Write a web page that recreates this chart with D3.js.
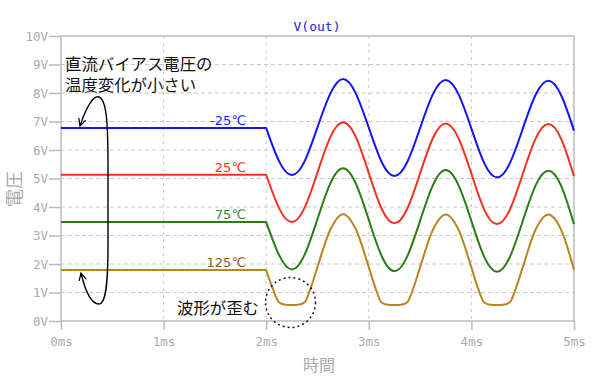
<!DOCTYPE html>
<html>
<head>
<meta charset="utf-8">
<script src="https://cdn.jsdelivr.net/npm/d3@7"></script>
<style>
  body { margin: 0; background: #fff; }
  svg { display: block; }
</style>
</head>
<body>
<script>
// time axis in ms, voltage in V
const xTicks = [0, 1, 2, 3, 4, 5];
const yTicks = [0, 1, 2, 3, 4, 5, 6, 7, 8, 9, 10];

const tempLabels = ["-25℃", "25℃", "75℃", "125℃"];
const dcLevels = [6.77, 5.13, 3.47, 1.79];
const dcEnd = 2; // input turns on at 2ms

const waveTimes = [2, 2.125, 2.25, 2.375, 2.5, 2.625, 2.75, 2.875,
  3, 3.125, 3.25, 3.375, 3.5, 3.625, 3.75, 3.875,
  4, 4.125, 4.25, 4.375, 4.5, 4.625, 4.75, 4.875, 5];

const vMinus25 = [6.77, 5.61, 5.12, 5.61, 6.80, 7.98, 8.49, 7.97,
  6.78, 5.58, 5.09, 5.58, 6.77, 7.96, 8.46, 7.95,
  6.75, 5.54, 5.04, 5.54, 6.74, 7.93, 8.43, 7.92, 6.68];
const v25 = [5.13, 3.96, 3.47, 3.98, 5.21, 6.45, 6.97, 6.44,
  5.19, 3.94, 3.43, 3.94, 5.18, 6.42, 6.93, 6.41,
  5.17, 3.91, 3.40, 3.91, 5.15, 6.39, 6.91, 6.39, 5.08];
const v75 = [3.47, 2.32, 1.81, 2.33, 3.58, 4.83, 5.36, 4.81,
  3.55, 2.28, 1.75, 2.27, 3.52, 4.77, 5.30, 4.76,
  3.51, 2.25, 1.73, 2.25, 3.50, 4.75, 5.27, 4.74, 3.40];

// 125℃ is clipped at the bottom, so it gets extra samples there
const clipTimes = [2, 2.0625, 2.125, 2.1875, 2.25, 2.3125, 2.375, 2.4375, 2.5, 2.625, 2.75, 2.875,
  3, 3.0625, 3.125, 3.1875, 3.25, 3.3125, 3.375, 3.4375, 3.5, 3.625, 3.75, 3.875,
  4, 4.0625, 4.125, 4.1875, 4.25, 4.3125, 4.375, 4.4375, 4.5, 4.625, 4.75, 4.875, 5];
const v125 = [1.79, 1.15, 0.66, 0.57, 0.56, 0.57, 0.66, 1.20, 1.90, 3.21, 3.75, 3.21,
  1.89, 1.18, 0.65, 0.57, 0.56, 0.57, 0.66, 1.19, 1.89, 3.20, 3.74, 3.20,
  1.88, 1.17, 0.65, 0.57, 0.56, 0.57, 0.66, 1.19, 1.88, 3.20, 3.74, 3.20, 1.80];

const lineColors = ["#1414f5", "#f0321e", "#2a7d16", "#b8861e"];
const labelColors = ["#1a1aff", "#f0321e", "#2e8b2e", "#8f5a16"];

const width = 600;
const height = 384;
const margin = { top: 36, right: 26, bottom: 63, left: 61 };

const svg = d3.select("body").append("svg")
  .attr("width", width)
  .attr("height", height);

const x = d3.scaleLinear().domain([0, 5]).range([margin.left, width - margin.right]);
const y = d3.scaleLinear().domain([0, 10]).range([height - margin.bottom, margin.top]);

const mono = "'DejaVu Sans Mono', monospace";
const jp = "'Noto Sans CJK JP', sans-serif";
const gray = "#aaa";

// grid
const grid = svg.append("g").attr("stroke", "#c8c8c8").attr("stroke-width", 1);
grid.selectAll("line.h")
  .data(yTicks.slice(1, -1))
  .join("line")
  .attr("class", "h")
  .attr("x1", x(0)).attr("x2", x(5))
  .attr("y1", (d) => y(d)).attr("y2", (d) => y(d))
  .attr("stroke-dasharray", "4,3");
grid.selectAll("line.v")
  .data(xTicks.slice(1, -1))
  .join("line")
  .attr("class", "v")
  .attr("x1", (d) => x(d)).attr("x2", (d) => x(d))
  .attr("y1", y(10)).attr("y2", y(0))
  .attr("stroke-dasharray", "3,4");

// frame
svg.append("rect")
  .attr("x", x(0)).attr("y", y(10))
  .attr("width", x(5) - x(0)).attr("height", y(0) - y(10))
  .attr("fill", "none").attr("stroke", "#bbb").attr("stroke-width", 1.5);

const leftAxis = svg.append("g")
  .attr("transform", `translate(${x(0)},0)`)
  .call(d3.axisLeft(y).tickValues(yTicks).tickFormat((d) => d + "V").tickSize(12).tickSizeOuter(0).tickPadding(1));
const bottomAxis = svg.append("g")
  .attr("transform", `translate(0,${y(0)})`)
  .call(d3.axisBottom(x).tickValues(xTicks).tickFormat((d) => d + "ms").tickSize(9).tickSizeOuter(0).tickPadding(7));

[leftAxis, bottomAxis].forEach((a) => {
  a.select(".domain").remove();
  a.selectAll(".tick line").attr("stroke", "#bbb").attr("stroke-width", 1.5);
  a.selectAll(".tick text")
    .attr("fill", gray)
    .style("font-family", mono)
    .style("font-size", "12.5px");
});

// series
const dcLine = d3.line().x((d) => x(d[0])).y((d) => y(d[1]));
const waveLine = d3.line().x((d) => x(d[0])).y((d) => y(d[1])).curve(d3.curveNatural);
const clipLine = d3.line().x((d) => x(d[0])).y((d) => y(d[1])).curve(d3.curveMonotoneX);

const waves = [
  { t: waveTimes, v: vMinus25, gen: waveLine },
  { t: waveTimes, v: v25, gen: waveLine },
  { t: waveTimes, v: v75, gen: waveLine },
  { t: clipTimes, v: v125, gen: clipLine },
];

waves.forEach((w, i) => {
  const flat = dcLine([[0, dcLevels[i]], [dcEnd, dcLevels[i]]]);
  const pts = w.t.map((t, j) => [t, w.v[j]]);
  const wave = w.gen(pts).replace(/^M/, "L");
  svg.append("path")
    .attr("d", flat + wave)
    .attr("fill", "none")
    .attr("stroke", lineColors[i])
    .attr("stroke-width", 2)
    .attr("stroke-linejoin", "round");
});

svg.append("g")
  .selectAll("text")
  .data(tempLabels)
  .join("text")
  .attr("x", 246)
  .attr("y", (d, i) => y(dcLevels[i]) - 3)
  .attr("text-anchor", "end")
  .attr("fill", (d, i) => labelColors[i])
  .style("font-family", "'DejaVu Sans', sans-serif")
  .style("font-size", "13px")
  .text((d) => d);

// title and axis names
svg.append("text")
  .attr("x", 317).attr("y", 31)
  .attr("text-anchor", "middle")
  .attr("fill", "#2020e0")
  .style("font-family", mono)
  .style("font-size", "13px")
  .text("V(out)");

svg.append("text")
  .attr("transform", "translate(21,189) rotate(-90)")
  .attr("text-anchor", "middle")
  .attr("fill", gray)
  .style("font-family", jp)
  .style("font-size", "18px")
  .text("電圧");

svg.append("text")
  .attr("x", 319).attr("y", 371)
  .attr("text-anchor", "middle")
  .attr("fill", gray)
  .style("font-family", jp)
  .style("font-size", "16px")
  .text("時間");

// annotations
const defs = svg.append("defs");
defs.append("marker")
  .attr("id", "head")
  .attr("viewBox", "0 0 10 10")
  .attr("refX", 9).attr("refY", 5)
  .attr("markerWidth", 9).attr("markerHeight", 9)
  .attr("markerUnits", "userSpaceOnUse")
  .attr("orient", "auto-start-reverse")
  .append("path")
  .attr("d", "M1,1 L9,5 L1,9")
  .attr("fill", "none")
  .attr("stroke", "#000")
  .attr("stroke-width", 1.4);

svg.append("path")
  .attr("d", "M80,126 C87,105 94,95 99,97 C107,100 108,125 108,170 L108,245 C108,290 105,304 99,304 C91,304 85,290 81,273")
  .attr("fill", "none")
  .attr("stroke", "#000")
  .attr("stroke-width", 1.4)
  .attr("marker-start", "url(#head)")
  .attr("marker-end", "url(#head)");

const note = svg.append("text")
  .attr("fill", "#111")
  .style("font-family", jp)
  .style("font-size", "16.4px");
note.append("tspan").attr("x", 65).attr("y", 70).text("直流バイアス電圧の");
note.append("tspan").attr("x", 65).attr("y", 91).text("温度変化が小さい");

svg.append("text")
  .attr("x", 177).attr("y", 314)
  .attr("fill", "#111")
  .style("font-family", jp)
  .style("font-size", "16.4px")
  .text("波形が歪む");

svg.append("circle")
  .attr("cx", 290.5).attr("cy", 302.5).attr("r", 25)
  .attr("fill", "none")
  .attr("stroke", "#111")
  .attr("stroke-width", 1.5)
  .attr("stroke-dasharray", "2,3");
</script>
</body>
</html>
